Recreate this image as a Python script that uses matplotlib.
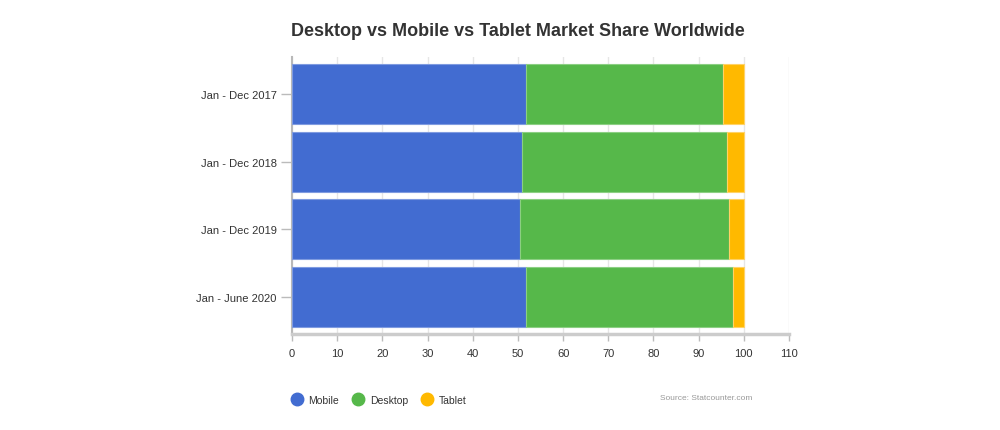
import matplotlib
matplotlib.use("Agg")
import matplotlib.pyplot as plt
from matplotlib.lines import Line2D

plt.rcParams['font.family'] = ['Liberation Sans', 'DejaVu Sans']

periods = ["Jan - Dec 2017", "Jan - Dec 2018", "Jan - Dec 2019", "Jan - June 2020"]
mobile = [51.7, 51.0, 50.5, 51.8]
desktop = [43.8, 45.3, 46.2, 45.7]
tablet = [4.5, 3.7, 3.3, 2.5]

series_names = ["Mobile", "Desktop", "Tablet"]
colors = ["#426cd1", "#56b84a", "#ffb900"]
edges = ["#7f9be0", "#8ccf83", "#ffd266"]

fig = plt.figure(figsize=(10, 4.31), dpi=100)
ax = fig.add_axes([0.292, 0.2227, 0.497, 0.6427])

ypos = list(range(len(periods)))
left = [0.0] * len(periods)
for vals, col, ec in zip([mobile, desktop, tablet], colors, edges):
    ax.barh(ypos, vals, left=left, height=0.89, color=col, edgecolor=ec,
            linewidth=0.8, zorder=3)
    left = [a + b for a, b in zip(left, vals)]

ax.set_xlim(0, 110)
ax.set_ylim(3.55, -0.55)
ax.set_xticks(range(0, 111, 10))
ax.set_yticks(ypos)
ax.set_yticklabels(periods)
ax.grid(axis='x', color='#e6e6e6', linewidth=1, zorder=0)
ax.grid(axis='y', visible=False)

for s in ['top', 'right']:
    ax.spines[s].set_visible(False)
ax.spines['left'].set_color('#b8b8b8')
ax.spines['left'].set_linewidth(1.5)
ax.spines['bottom'].set_color('#cccccc')
ax.spines['bottom'].set_linewidth(2.5)
ax.tick_params(axis='x', length=5, width=1, color='#bbbbbb', labelsize=8,
               labelcolor='#333333', pad=5)
ax.tick_params(axis='y', length=8, width=1, color='#bbbbbb', labelsize=8,
               labelcolor='#333333', pad=3)

fig.text(0.518, 0.926, "Desktop vs Mobile vs Tablet Market Share Worldwide",
         ha='center', va='center', fontsize=13, fontweight='bold', color='#333333')

handles = [Line2D([], [], marker='o', linestyle='none', markersize=9,
                  markerfacecolor=c, markeredgecolor=c) for c in colors]
fig.legend(handles, series_names, loc='center left', bbox_to_anchor=(0.282, 0.07),
           ncol=3, frameon=False, fontsize=7.5, handletextpad=0.65,
           columnspacing=1.3, handlelength=1.0, labelcolor='#333333')

fig.text(0.752, 0.075, "Source: Statcounter.com", ha='right', va='center',
         fontsize=6, color='#999999')

fig.savefig("out.png", dpi=100)
